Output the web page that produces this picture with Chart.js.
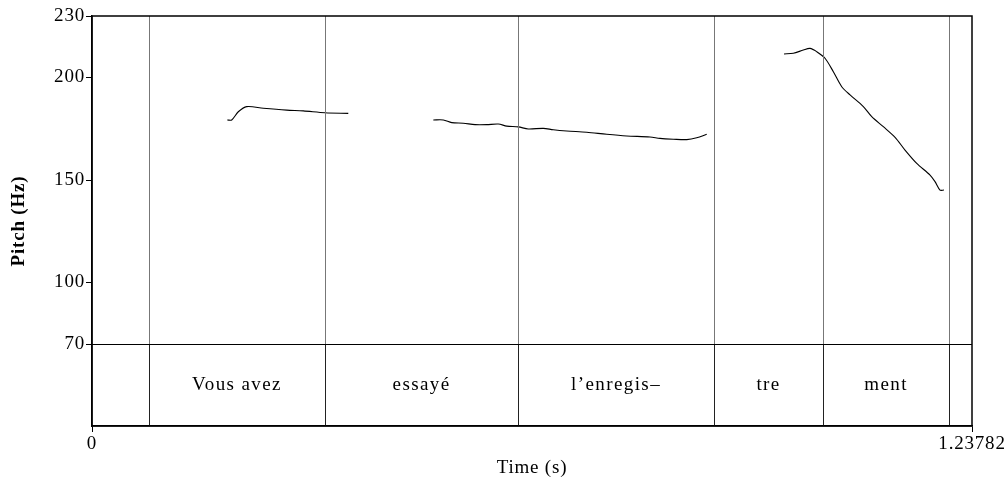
<!DOCTYPE html>
<html>
<head>
<meta charset="utf-8">
<script src="https://cdn.jsdelivr.net/npm/chart.js@4.4.1/dist/chart.umd.min.js"></script>
<style>
  html, body { margin: 0; padding: 0; background: #fff; }
  #wrap { width: 1008px; height: 484px; }
</style>
</head>
<body>
<div id="wrap"><canvas id="pitchChart"></canvas></div>
<script>
// contour de pitch (temps en s, Hz) - trois segments voisés
const seg1Time = [0.1903, 0.1965, 0.2058, 0.2176, 0.2410, 0.2739, 0.2972, 0.3278, 0.3605];
const seg1Hz   = [179.3, 179.3, 183.3, 185.8, 185.0, 184.1, 183.7, 182.8, 182.5];

const seg2Time = [0.4801, 0.4942, 0.5060, 0.5223, 0.5388, 0.5552, 0.5715, 0.5834, 0.5997, 0.6137, 0.6348,
                  0.6489, 0.6677, 0.6959, 0.7240, 0.7521, 0.7849, 0.7990, 0.8177, 0.8366, 0.8506, 0.8647];
const seg2Hz   = [179.3, 179.3, 178.0, 177.7, 177.0, 177.0, 177.3, 176.3, 175.9, 174.9, 175.2,
                  174.5, 173.9, 173.3, 172.3, 171.5, 171.0, 170.3, 169.9, 169.7, 170.6, 172.3];

const seg3Time = [0.9734, 0.9865, 1.0006, 1.0100, 1.0194, 1.0311, 1.0428, 1.0546, 1.0663, 1.0850,
                  1.0968, 1.1131, 1.1296, 1.1436, 1.1601, 1.1788, 1.1858, 1.1928, 1.1984];
const seg3Hz   = [211.5, 211.8, 213.4, 214.2, 212.6, 209.4, 202.8, 195.5, 191.5, 185.8,
                  180.9, 176.0, 170.8, 164.6, 158.1, 152.4, 149.2, 145.1, 145.1];

// tier de texte
const tierBounds = [0.0802, 0.3278, 0.5993, 0.875, 1.0283, 1.2055];
const tierLabels = ['Vous avez', 'essayé', 'l\u2019enregis\u2013', 'tre', 'ment'];

// ticks
const yTicks = [70, 100, 150, 200, 230];
const xTicks = [0, 1.23782];
const tierTop = 70;
const yMin = 30, yMax = 230;

function pts(t, h) { return t.map((v, i) => ({ x: v, y: h[i] })); }
const contour = [...pts(seg1Time, seg1Hz), { x: 0.42, y: null },
                 ...pts(seg2Time, seg2Hz), { x: 0.92, y: null },
                 ...pts(seg3Time, seg3Hz)];

const FONT = '"Liberation Serif", "Times New Roman", serif';

// espacement des lettres (style Praat)
const spacingPlugin = {
  id: 'spacing',
  beforeDraw(chart) { chart.ctx.letterSpacing = '0.8px'; }
};

// cadre, frontières et textes du tier
const tierPlugin = {
  id: 'tier',
  afterDatasetsDraw(chart) {
    const { ctx, chartArea: a, scales: { x, y } } = chart;
    const yTier = y.getPixelForValue(tierTop);
    ctx.save();
    // frontières
    tierBounds.forEach(b => {
      const px = Math.round(x.getPixelForValue(b)) + 0.5;
      ctx.strokeStyle = '#777';
      ctx.lineWidth = 1;
      ctx.beginPath(); ctx.moveTo(px, a.top); ctx.lineTo(px, yTier); ctx.stroke();
      ctx.strokeStyle = '#222';
      ctx.beginPath(); ctx.moveTo(px, yTier); ctx.lineTo(px, a.bottom); ctx.stroke();
    });
    // ligne du tier
    ctx.strokeStyle = '#000';
    ctx.lineWidth = 1;
    ctx.beginPath();
    ctx.moveTo(a.left, Math.round(yTier) + 0.5);
    ctx.lineTo(a.right, Math.round(yTier) + 0.5);
    ctx.stroke();
    // cadre
    ctx.lineWidth = 1.5;
    ctx.strokeRect(a.left, a.top, a.right - a.left, a.bottom - a.top);
    // textes
    ctx.fillStyle = '#000';
    ctx.font = '19px ' + FONT;
    ctx.letterSpacing = '1.4px';
    ctx.textAlign = 'center';
    ctx.textBaseline = 'middle';
    const midY = (yTier + a.bottom) / 2;
    tierLabels.forEach((lab, i) => {
      const cx = (x.getPixelForValue(tierBounds[i]) + x.getPixelForValue(tierBounds[i + 1])) / 2;
      ctx.fillText(lab, cx, midY);
    });
    ctx.restore();
  }
};

const ctx = document.getElementById('pitchChart');
new Chart(ctx, {
  type: 'line',
  data: {
    datasets: [{
      label: 'Pitch',
      data: contour,
      borderColor: '#000',
      borderWidth: 1.1,
      pointRadius: 0,
      tension: 0.3,
      spanGaps: false
    }]
  },
  options: {
    responsive: true,
    maintainAspectRatio: false,
    animation: false,
    layout: { padding: { top: 16, right: 36, left: 0, bottom: 0 } },
    plugins: {
      legend: { display: false },
      tooltip: { enabled: false }
    },
    scales: {
      x: {
        type: 'linear',
        min: 0,
        max: xTicks[1],
        afterBuildTicks: s => { s.ticks = xTicks.map(v => ({ value: v })); },
        afterFit: s => { s.height = 58; },
        ticks: {
          color: '#000',
          font: { family: FONT, size: 19 },
          padding: 1,
          maxRotation: 0,
          callback: v => String(v)
        },
        grid: { drawOnChartArea: false, drawTicks: true, tickLength: 6, color: '#000' },
        border: { display: true, color: '#000', width: 1.5 },
        title: {
          display: true,
          text: 'Time (s)',
          color: '#000',
          font: { family: FONT, size: 19 },
          padding: { top: 0, bottom: 5 }
        }
      },
      y: {
        type: 'linear',
        min: yMin,
        max: yMax,
        afterBuildTicks: s => { s.ticks = yTicks.map(v => ({ value: v })); },
        afterFit: s => { s.width = 92; },
        ticks: {
          color: '#000',
          font: { family: FONT, size: 19 },
          padding: 1
        },
        grid: { drawOnChartArea: false, drawTicks: true, tickLength: 6, color: '#000' },
        border: { display: true, color: '#000', width: 1.5 },
        title: {
          display: true,
          text: 'Pitch (Hz)',
          color: '#000',
          font: { family: FONT, size: 19, weight: 'bold' },
          padding: { top: 8, bottom: 0 }
        }
      }
    }
  },
  plugins: [spacingPlugin, tierPlugin]
});
</script>
</body>
</html>
